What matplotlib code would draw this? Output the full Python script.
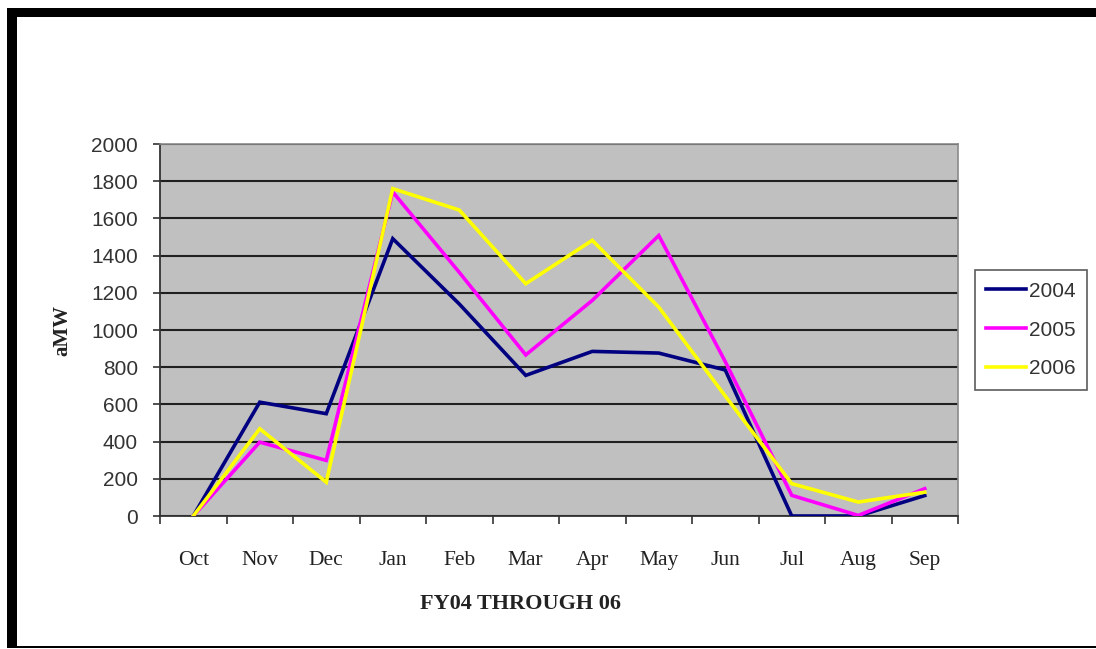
import matplotlib
matplotlib.use("Agg")
import matplotlib.pyplot as plt
from matplotlib.patches import Rectangle

months = ["Oct", "Nov", "Dec", "Jan", "Feb", "Mar", "Apr", "May", "Jun", "Jul", "Aug", "Sep"]
fy2004 = [0, 612, 550, 1491, 1140, 756, 885, 876, 785, 0, 0, 110]
fy2005 = [0, 397, 299, 1742, 1310, 866, 1159, 1508, 830, 111, 3, 147]
fy2006 = [0, 469, 182, 1760, 1645, 1249, 1482, 1123, 645, 174, 75, 128]
years = ["2004", "2005", "2006"]
colors = ["#000080", "#FF00FF", "#FFFF00"]

W, H = 1096, 649
fig = plt.figure(figsize=(W / 100, H / 100), dpi=100)
fig.patch.set_facecolor("white")

# thick black frame on left/top, thin on bottom
fig.patches.append(Rectangle((7 / W, 1 - 648 / H), 10 / W, 640 / H, transform=fig.transFigure,
                             facecolor="black", edgecolor="none", zorder=0))
fig.patches.append(Rectangle((7 / W, 1 - 17 / H), (W - 7) / W, 9 / H, transform=fig.transFigure,
                             facecolor="black", edgecolor="none", zorder=0))
fig.patches.append(Rectangle((7 / W, 1 - 648 / H), (W - 7) / W, 2 / H, transform=fig.transFigure,
                             facecolor="black", edgecolor="none", zorder=0))

ax = fig.add_axes([160 / W, 1 - 516 / H, (958 - 160) / W, (516 - 144) / H])
ax.set_facecolor("#C0C0C0")

x = list(range(len(months)))
for vals, lab, c in zip([fy2004, fy2005, fy2006], years, colors):
    ax.plot(x, vals, color=c, lw=2.6, label=lab, solid_joinstyle="miter", zorder=3)

ax.set_xlim(-0.5, len(months) - 0.5)
ax.set_ylim(0, 2000)
ax.set_yticks(range(0, 2001, 200))
ax.tick_params(axis="y", length=5, width=1.2, color="#333333", labelsize=15,
               labelcolor="#333333", pad=11)
ax.set_yticklabels([str(v) for v in range(0, 2001, 200)], family="Liberation Sans")

# category axis: ticks between categories, labels centred on them
ax.set_xticks([i - 0.5 for i in range(len(months) + 1)])
ax.set_xticklabels([])
ax.set_xticks(x, minor=True)
ax.set_xticklabels(months, minor=True, family="Liberation Serif", fontsize=15.5, color="#222222")
ax.tick_params(axis="x", which="major", length=6, width=1.2, color="#333333")
ax.tick_params(axis="x", which="minor", length=0, pad=25)

ax.grid(axis="y", color="#202020", lw=1.5, zorder=1)
for side in ["left", "bottom"]:
    ax.spines[side].set_color("#333333")
    ax.spines[side].set_linewidth(1.3)
for side in ["top", "right"]:
    ax.spines[side].set_color("#8a8a8a")
    ax.spines[side].set_linewidth(1.2)
ax.set_axisbelow(True)

fig.text(62 / W, 1 - 330 / H, "aMW", rotation=90, ha="center", va="center",
         family="Liberation Serif", fontweight="bold", fontsize=15, color="#222222")
fig.text(521 / W, 1 - 604 / H, "FY04 THROUGH 06", ha="center", va="center",
         family="Liberation Serif", fontweight="bold", fontsize=16, color="#222222")

leg = fig.legend(loc="center", bbox_to_anchor=(1031 / W, 1 - 330 / H), frameon=True,
                 fancybox=False, prop={"family": "Liberation Sans", "size": 15},
                 handlelength=1.9, handletextpad=0.15, labelspacing=0.95, borderpad=0.55,
                 borderaxespad=0)
leg.get_frame().set_edgecolor("#333333")
leg.get_frame().set_linewidth(1.2)
for t in leg.get_texts():
    t.set_color("#333333")

fig.savefig("out.png", dpi=100)
